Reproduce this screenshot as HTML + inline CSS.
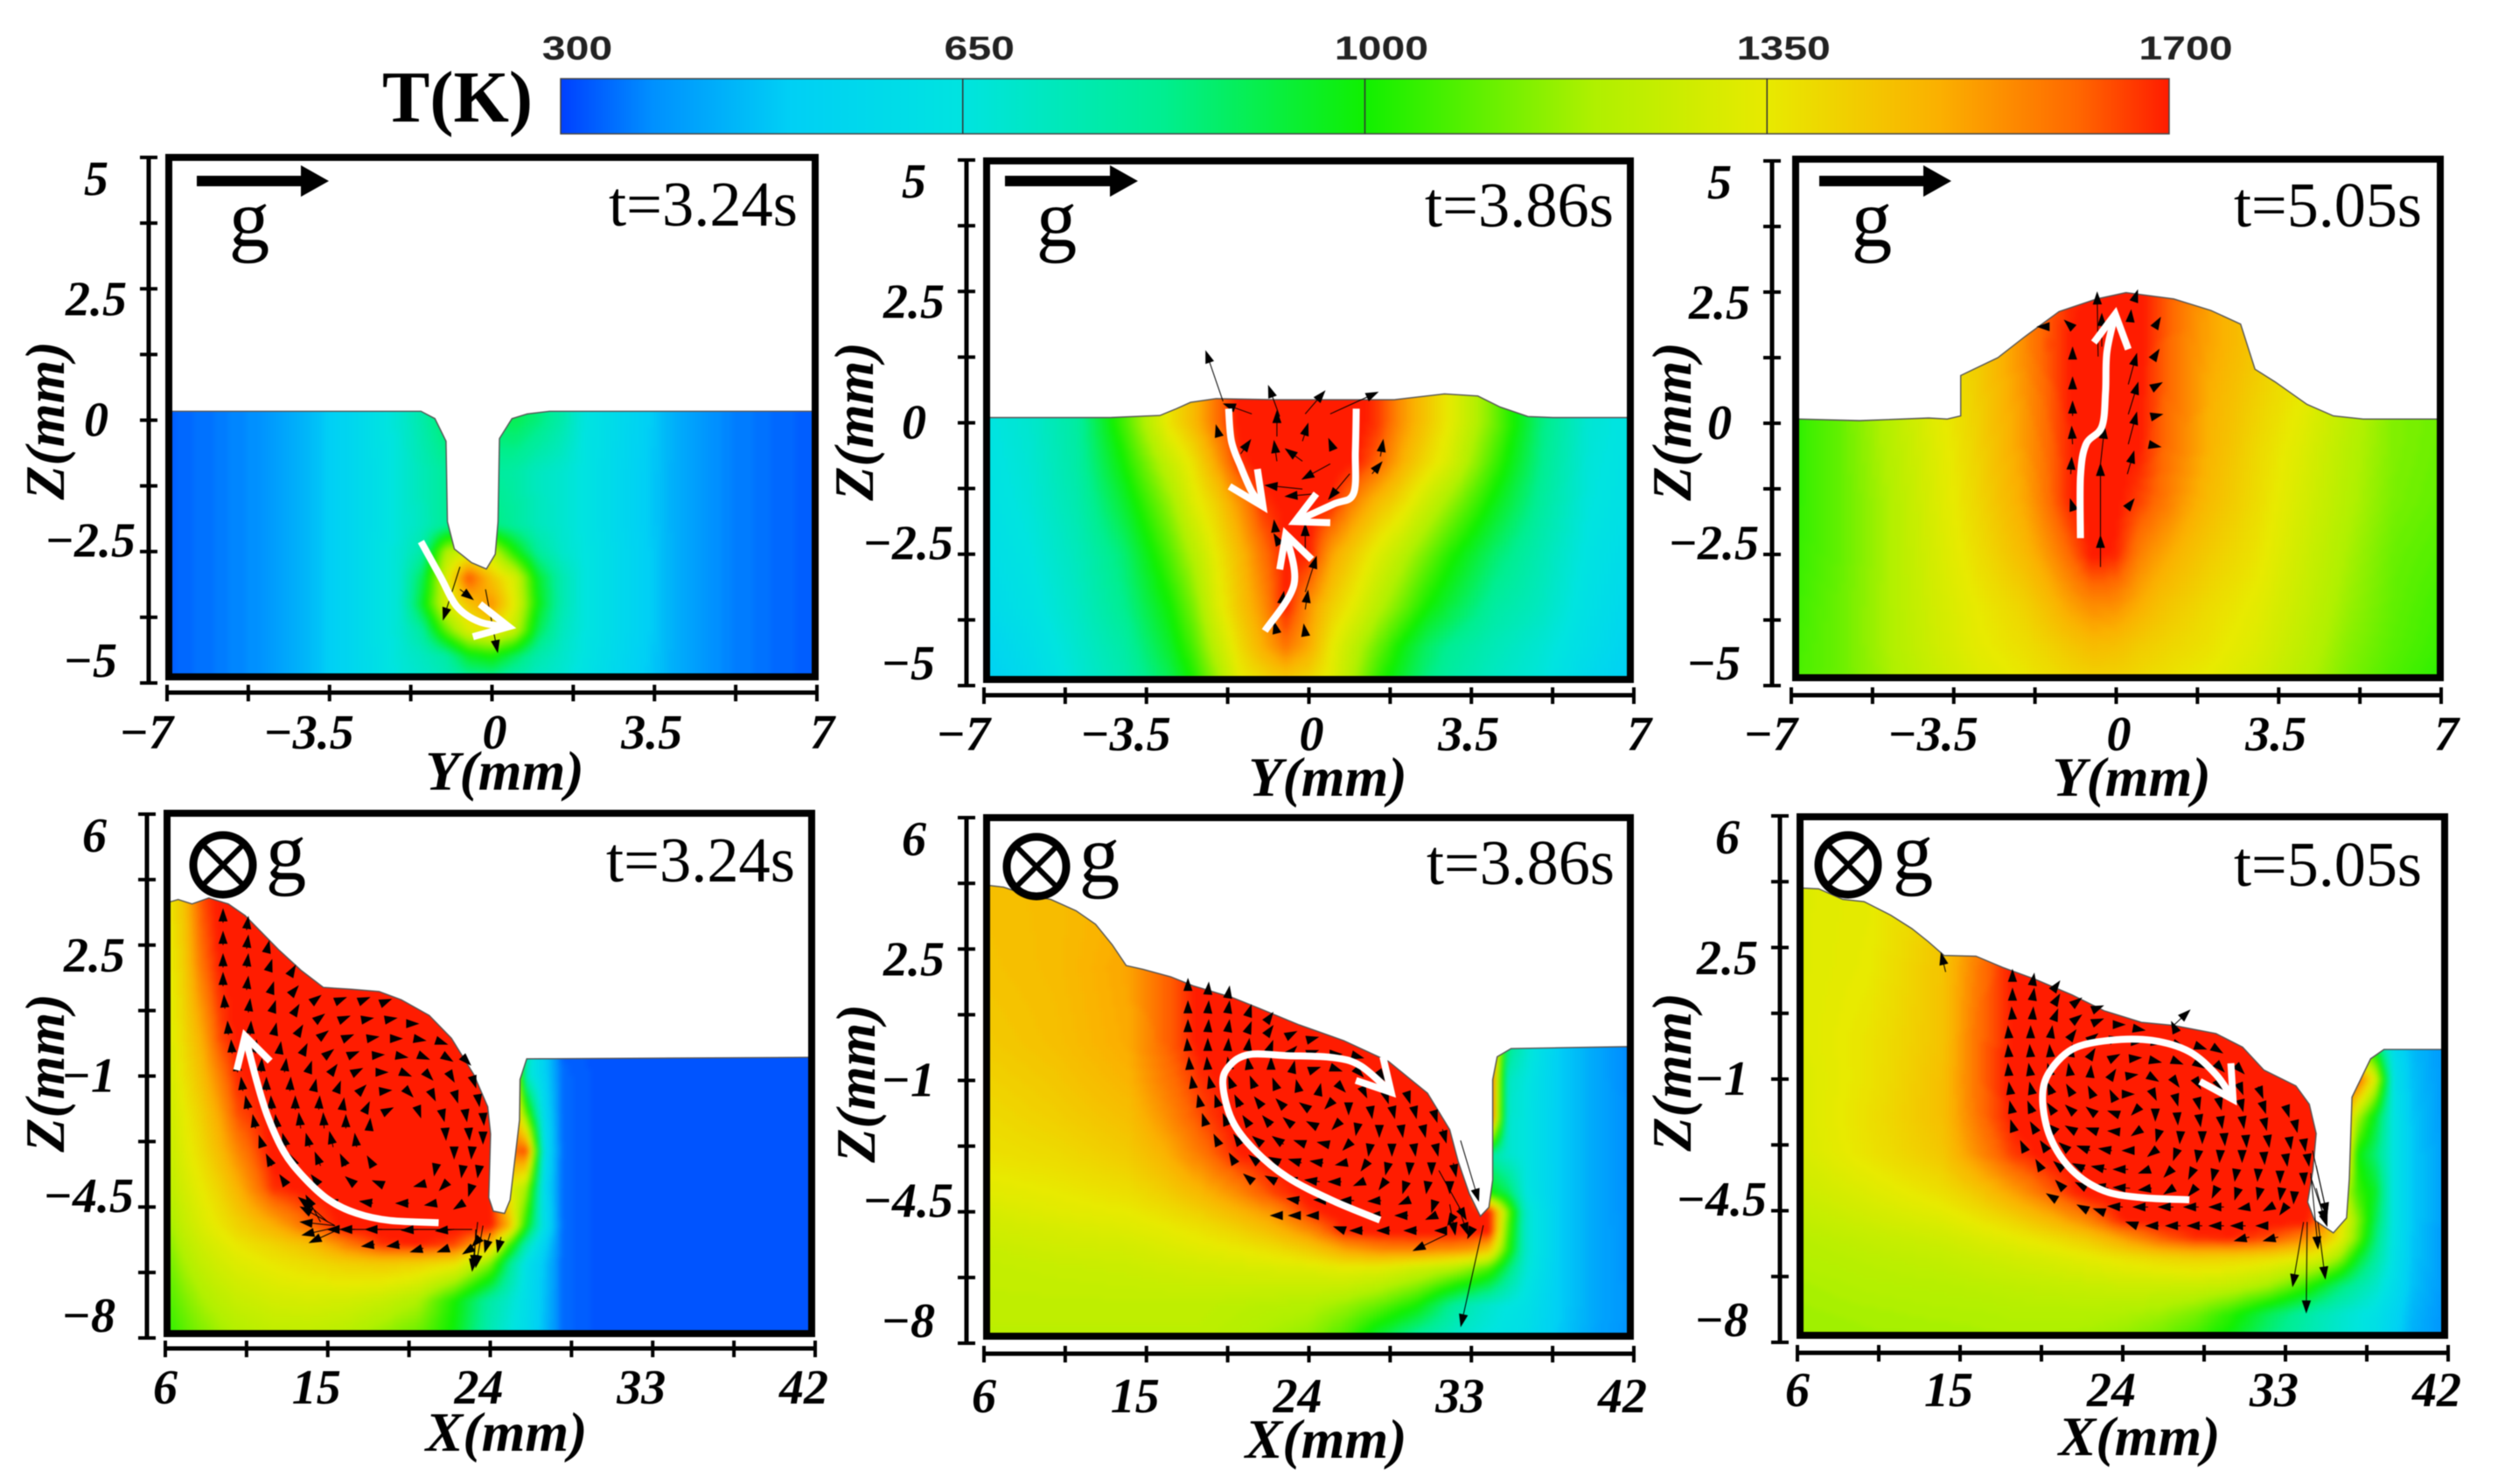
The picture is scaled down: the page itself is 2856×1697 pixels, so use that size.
<!DOCTYPE html>
<html lang="en">
<head>
<meta charset="utf-8">
<title>Melt pool temperature and flow fields</title>
<style>
html,body{margin:0;padding:0;background:#fff;width:2856px;height:1697px;overflow:hidden}
svg{display:block;filter:blur(0.5px)}
text{font-family:"Liberation Serif",serif;fill:#000}
.cb{font-family:"Liberation Sans",sans-serif;font-weight:700;font-size:38px;fill:#222}
.tk{font-weight:700;font-style:italic;font-size:56px}
.ttl{font-weight:700;font-style:italic;font-size:64px}
.tm{font-size:73px}
.gr{font-size:93px}
</style>
</head>
<body>
<svg id="chart" xmlns="http://www.w3.org/2000/svg" width="2856" height="1697" viewBox="0 0 2856 1697">
<defs id="defs">
<linearGradient id="cbGrad" x1="0" x2="1" y1="0" y2="0"></linearGradient>
<filter id="soft" x="-5%" y="-5%" width="110%" height="110%" color-interpolation-filters="sRGB"><feGaussianBlur stdDeviation="3"/></filter>
</defs>
<rect x="0" y="0" width="2856" height="1697" fill="#fff"/>
<text x="437" y="139" font-size="84" font-weight="700" textLength="172" lengthAdjust="spacingAndGlyphs">T(K)</text>
</svg>
<script>
// ---------- colour scale ----------
const cbTicks=[300,650,1000,1350,1700];
const cbStopTemps=[300,380,500,650,825,1000,1200,1350,1500,1620,1700];
const cbStopColors=['#0040ff','#0090ff','#00d0f5','#00e4e0','#00ee90','#10f000','#b0f000','#e8ea00','#fbb000','#ff6800','#ff1c00'];

// ---------- panel 1: Y section, t=3.24s ----------
const p1Cols=[-7,-6,-5,-4,-3,-2,-1.5,-1,-.5,0,.5,1,1.5,2,3,4,5,6,7];
const p1Rows=[.5,0,-1,-2,-2.5,-3,-3.5,-4,-4.5,-5];
const p1Temps=[
[330,355,385,450,550,680,770,880,900,880,900,850,770,650,540,430,370,345,325],
[330,355,385,450,550,680,770,880,900,880,900,850,770,650,540,430,370,345,325],
[330,355,385,450,550,670,740,800,800,800,780,720,690,640,530,430,370,345,325],
[330,355,385,450,550,670,730,810,850,850,800,730,690,640,530,430,370,345,325],
[330,355,385,450,550,680,780,1200,1300,1250,1000,800,700,650,540,430,370,345,325],
[330,355,385,450,550,680,900,1300,1650,1450,1300,950,760,650,540,430,370,345,325],
[330,355,385,450,550,680,950,1300,1450,1550,1330,980,760,650,540,430,370,345,325],
[330,355,385,450,550,680,800,1100,1320,1370,1250,900,730,650,540,430,370,345,325],
[330,355,385,450,550,670,720,780,950,1000,880,760,700,640,530,430,370,345,325],
[330,355,385,450,550,660,690,720,760,760,730,700,680,620,520,430,370,345,325]];
const p1Surface=[[-7,.17],[-1.53,.17],[-1.23,.03],[-.99,-.4],[-.96,-1.93],[-.81,-2.45],[-.44,-2.71],[-.12,-2.83],[.07,-2.55],[.13,-1.93],[.16,-.35],[.43,.03],[.76,.12],[1.24,.17],[7,.17]];
const p1Arrows=[[-.69,-2.79,-1.05,-3.79],[-.14,-3.22,.12,-4.41],[-.69,-3.22,-.41,-3.41]];
const p1Flow=[[-1.53,-2.31],[-1.11,-2.98],[-.75,-3.55],[-.26,-3.84],[.36,-3.93]];
const p1Head=[[-.26,-3.5],[.36,-3.93],[-.41,-4.12]];

// ---------- panel 2: Y section, t=3.86s ----------
const p2Cols=[-7,-6,-5,-4,-3,-2.5,-2,-1.5,-1,-.5,0,.5,1,1.5,2,2.5,3,4,5,6,7];
const p2Rows=[.6,0,-.75,-1.5,-2.5,-3.5,-4.25,-5];
const p2Temps=[
[640,690,790,1060,1370,1470,1600,1710,1720,1720,1720,1720,1720,1670,1550,1450,1350,1120,850,680,630],
[640,690,790,1060,1370,1470,1600,1710,1720,1720,1720,1720,1720,1670,1550,1450,1350,1120,850,680,630],
[630,680,780,1000,1260,1370,1520,1680,1720,1720,1720,1720,1700,1620,1500,1400,1310,1060,830,670,620],
[620,670,760,940,1170,1320,1420,1550,1680,1710,1710,1690,1570,1470,1390,1280,1180,980,800,660,610],
[600,650,730,860,1080,1210,1350,1470,1600,1700,1700,1520,1420,1320,1230,1130,1030,870,750,640,580],
[570,630,710,820,1000,1130,1310,1440,1550,1700,1550,1420,1330,1220,1120,1010,930,790,720,620,550],
[530,600,690,780,950,1070,1240,1390,1500,1600,1510,1350,1230,1110,990,890,820,740,680,600,520],
[500,570,670,750,890,1000,1150,1330,1380,1400,1380,1320,1180,1020,930,840,780,710,660,560,490]];
const p2Surface=[[-7,.1],[-4.29,.1],[-3.21,.14],[-2.85,.27],[-2.55,.39],[-2,.46],[-.69,.44],[1.84,.44],[2.92,.55],[3.64,.51],[4.12,.3],[4.72,.12],[5.26,.1],[7,.1]];
const p2Arrows=[[-1.85,.41,-2.22,1.36],[-.63,.12,-.87,.7],[-.08,.17,.34,.6],[.46,.17,1.48,.58],[-1.23,.17,-1.83,.36],[-.69,-.26,-.69,.22],[-.14,-.35,-.02,-.02],[-1.95,-.21,-2,-.05],[-1.47,-.59,-1.26,-.33],[-.69,-.73,-.75,-.35],[-.14,-.73,-.5,-.5],[.52,-.5,.43,-.31],[1.54,-.64,1.6,-.33],[1.36,-.97,1.57,-.75],[.46,-.78,-.14,-1.07],[.88,-.97,.43,-1.45],[-.14,-1.26,-.93,-1.19],[.16,-1.35,-.5,-1.4],[-.72,-2.07,-.75,-1.86],[-.63,-2.31,-.75,-2.12],[-.08,-2.4,-.08,-1.93],[-.08,-3.22,.16,-2.55],[-.59,-3.45,-.54,-3.22],[-.08,-3.55,-.02,-3.2],[-.69,-4,-.75,-3.79],[-.08,-4,-.11,-3.84]];
const p2Flows=[
[[-1.73,.27],[-1.67,-.35],[-1.47,-.83],[-1.23,-1.31],[-.99,-1.59]],
[[1.02,.27],[1,-.54],[.96,-1.35],[.52,-1.55],[-.3,-1.88]],
[[-.95,-3.96],[-.32,-3.07],[-.5,-2.12]]];
const p2Heads=[
[[-1.11,-.88],[-.99,-1.59],[-1.71,-1.21]],
[[.16,-1.35],[-.3,-1.88],[.46,-1.9]],
[[-.63,-2.79],[-.5,-2.12],[.06,-2.6]]];

// ---------- panel 3: Y section, t=5.05s ----------
const p3Cols=[-7,-6,-5,-4,-3,-2,-1.5,-1,-.5,0,.5,1,1.5,2,3,4,5,6,7];
const p3Rows=[2.5,1.5,.5,-.5,-1.5,-2.5,-3.5,-4.25,-5];
const p3Temps=[
[1050,1110,1220,1350,1420,1560,1620,1680,1710,1720,1710,1650,1590,1520,1440,1350,1240,1130,1100],
[1040,1100,1220,1350,1430,1560,1640,1700,1720,1720,1710,1640,1570,1520,1440,1350,1240,1130,1100],
[1030,1100,1210,1330,1420,1540,1620,1700,1720,1720,1710,1630,1570,1500,1420,1350,1240,1140,1120],
[1030,1100,1200,1310,1410,1530,1610,1690,1720,1720,1700,1620,1560,1490,1400,1320,1220,1140,1110],
[1030,1100,1190,1300,1400,1510,1600,1690,1720,1710,1660,1600,1530,1470,1390,1300,1210,1130,1100],
[1040,1100,1190,1290,1380,1470,1540,1620,1710,1690,1580,1520,1470,1430,1370,1280,1190,1110,1080],
[1050,1110,1190,1280,1350,1410,1460,1520,1560,1550,1500,1450,1420,1390,1340,1260,1170,1100,1060],
[1060,1110,1190,1270,1340,1380,1410,1440,1470,1460,1430,1410,1390,1370,1320,1240,1150,1090,1050],
[1070,1110,1180,1250,1310,1350,1370,1390,1400,1400,1390,1370,1350,1340,1290,1210,1130,1070,1030]];
const p3Surface=[[-7,.08],[-5.53,.05],[-4.04,.1],[-3.64,.08],[-3.35,.14],[-3.35,.91],[-3.07,1.03],[-2.55,1.25],[-1.97,1.65],[-1.23,2.13],[-.42,2.37],[.21,2.49],[1.24,2.37],[2.04,2.15],[2.68,1.89],[2.99,1.03],[3.42,.79],[4.11,.36],[4.68,.14],[5.32,.08],[7,.08]];
const p3Arrows=[[-.96,1.84,-1.11,1.96],[-.94,1.29,-.94,1.44],[-.94,.68,-.94,.87],[-.94,.14,-.94,.41],[-.94,-.4,-.96,-.07],[-.98,-.97,-.96,-.66],[-.92,-1.64,-.99,-1.45],[-.34,-2.74,-.34,-2.15],[-.34,-2.15,-.34,-.78],[-.34,-.78,-.25,-.07],[-.39,1.27,-.41,2.49],[-.31,1.46,-.31,2.08],[.26,.74,.44,1.32],[.26,.17,.47,.77],[.26,-.4,.44,.2],[.24,-.97,.38,-.54],[.24,-1.61,.38,-1.45],[.3,1.94,.32,2.15],[.38,2.32,.46,2.53],[.87,1.89,.95,2.01],[.84,1.29,.92,1.4],[.84,.7,.98,.77],[.84,.14,.99,.17],[.84,-.43,.95,-.45],[-1.61,1.84,-1.69,1.84]];
const p3Flow=[[-.77,-2.19],[-.77,-1.02],[-.65,-.4],[-.31,-.07],[-.23,.6],[-.2,1.36],[-.02,2.08]];
const p3Head=[[-.48,1.54],[-.02,2.08],[.26,1.41]];

// ---------- panel 4: X section, t=3.24s ----------
const p4Cols=[6,7,8,9,10,12,14,16,18,20,22,24,25,26,27,28,30,42];
const p4Rows=[4,2,0,-1,-2,-3,-4,-5,-5.5,-6,-7,-8];
const p4Temps=[
[1350,1450,1650,1720,1720,1720,1720,1720,1720,1720,1720,1720,1720,900,600,330,320,320],
[1320,1420,1600,1700,1720,1720,1720,1720,1720,1720,1720,1720,1720,900,600,330,320,320],
[1290,1390,1500,1650,1710,1720,1720,1720,1720,1720,1720,1720,1720,750,500,330,320,320],
[1270,1370,1460,1580,1690,1720,1720,1720,1720,1720,1720,1720,1720,720,520,340,320,320],
[1260,1340,1420,1520,1650,1720,1720,1720,1720,1720,1720,1720,1720,1100,560,340,320,320],
[1240,1320,1390,1470,1570,1720,1720,1720,1720,1720,1720,1720,1600,1650,600,340,320,320],
[1210,1290,1350,1410,1490,1680,1720,1720,1720,1720,1720,1720,1350,1200,560,340,320,320],
[1160,1250,1310,1360,1410,1500,1620,1720,1720,1720,1720,1720,1500,1000,600,340,320,320],
[1130,1220,1280,1320,1360,1410,1460,1580,1680,1700,1660,1450,1100,750,520,340,320,320],
[1100,1190,1250,1290,1320,1360,1390,1420,1440,1420,1380,1150,850,620,480,340,320,320],
[1060,1130,1190,1230,1260,1290,1300,1290,1260,1200,1010,780,700,600,470,340,320,320],
[1020,1080,1130,1170,1200,1230,1230,1210,1150,1100,980,740,660,580,460,340,320,320]];
const p4Surface=[[6,3.66],[6.71,3.72],[7.48,3.6],[8.41,3.76],[9.49,3.6],[10.42,3.29],[12.27,2.38],[13.51,1.83],[14.75,1.37],[16.29,1.32],[17.84,1.26],[19.07,1.04],[20.62,.62],[21.85,.01],[23.09,-.96],[23.86,-1.82],[24.02,-2.55],[23.92,-4.25],[24.17,-4.61],[24.79,-4.67],[25.1,-4.31],[25.62,-2.18],[25.65,-1.09],[26.02,-.54],[42,-.5]];
const p4Arrows=[
[9.2,3.1,0,.35],[10.5,2.9,.1,.35],
[9.2,2.5,0,.35],[10.5,2.4,.1,.35],[11.6,2.3,.15,.3],
[9.2,1.9,0,.35],[10.5,1.9,.1,.35],[11.7,1.8,.2,.3],[12.9,1.7,.3,.25],
[9.2,1.4,0,.35],[10.5,1.3,.1,.35],[11.8,1.2,.2,.3],[13,1.2,.35,.2],[14.2,1,.4,.15],[15.5,1,.5,.1],[16.8,1,.5,.1],[18,.95,.5,.1],
[9.3,.8,-.05,.35],[10.6,.7,.1,.35],[11.9,.7,.2,.3],[13.1,.65,.3,.25],[14.4,.5,.4,.15],[15.7,.5,.5,.1],[16.9,.5,.6,.05],[18.2,.5,.6,.05],[19.4,.4,.6,0],
[9.5,.1,-.05,.35],[10.7,.1,.05,.35],[12,.1,.15,.3],[13.3,.1,.3,.25],[14.6,.05,.4,.15],[15.9,0,.5,.1],[17.2,0,.6,.05],[18.5,0,.6,0],[19.8,0,.6,-.05],[21,-.05,.6,-.1],
[9.7,-.4,-.05,.35],[11,-.4,.05,.35],[12.3,-.4,.1,.3],[13.6,-.4,.25,.25],[14.9,-.45,.4,.15],[16.2,-.45,.5,.1],[17.5,-.45,.6,.02],[18.8,-.45,.6,-.05],[20.1,-.45,.5,-.1],[21.4,-.45,.5,-.15],[22.5,-.5,.4,-.2],
[10,-.9,-.05,.35],[11.3,-.9,.05,.35],[12.6,-.9,.1,.35],[13.9,-.9,.2,.28],[15.2,-.9,.3,.2],[16.5,-.9,.4,.1],[17.8,-.9,.5,0],[19.1,-.9,.5,-.1],[20.4,-.9,.4,-.2],[21.7,-.9,.3,-.25],[23,-1,.2,-.3],
[10.3,-1.4,-.1,.35],[11.6,-1.4,0,.35],[12.9,-1.4,.05,.35],[14.2,-1.4,.15,.3],[15.5,-1.4,.2,.25],[16.8,-1.4,.3,.15],[18.1,-1.4,.4,.02],[19.4,-1.4,.3,-.15],[20.7,-1.4,.25,-.25],[22,-1.4,.2,-.3],[23.3,-1.5,.1,-.3],
[10.6,-1.9,-.15,.35],[11.9,-1.9,-.05,.35],[13.2,-1.9,0,.35],[14.5,-1.9,.05,.35],[15.8,-1.9,.1,.3],[17.1,-1.9,.2,.2],[18.4,-1.9,.2,.05],[20,-1.9,.15,-.2],[21.3,-1.9,.15,-.3],[22.6,-1.9,.1,-.3],[23.6,-2,.05,-.3],
[11,-2.4,-.15,.35],[12.2,-2.4,-.1,.35],[13.5,-2.4,-.1,.4],[14.8,-2.4,-.05,.4],[16,-2.4,0,.35],[17.3,-2.4,.05,.25],[21.5,-2.4,.05,-.3],[22.8,-2.4,.05,-.3],[23.6,-2.5,0,-.3],
[11.4,-2.9,-.2,.3],[12.7,-2.9,-.2,.35],[14,-2.9,-.2,.35],[15.3,-2.9,-.2,.4],[16.6,-2.9,-.1,.35],[22,-2.9,0,-.3],[23,-2.9,-.05,-.3],
[11.9,-3.4,-.3,.3],[13.2,-3.4,-.3,.3],[14.6,-3.4,-.3,.35],[16,-3.4,-.3,.3],[17.5,-3.4,-.3,.25],[21,-3.4,-.1,-.25],[22.5,-3.4,-.1,-.3],[23.4,-3.4,-.1,-.3],
[12.7,-3.9,-.35,.25],[14.5,-3.9,-.4,.25],[16.5,-3.9,-.5,.2],[18,-3.9,-.5,.1],[20.2,-3.9,-.4,-.05],[21.5,-3.9,-.3,-.15],[23,-3.9,-.2,-.3],
[13.8,-4.4,-.4,.15],[15.5,-4.4,-.6,.1],[17.5,-4.4,-.7,.05],[19.5,-4.4,-.7,0],[21,-4.4,-.6,-.05],[22.5,-4.4,-.5,-.15],
[15.4,-5,-1.9,.5],[15.4,-5,-1.9,.1],[15.4,-5.05,-1.8,-.2],[15.6,-5.1,-1.6,-.35],[15,-4.9,-1.4,.6],[14.6,-4.9,-.8,.7],
[23,-5.1,-8,0],[22,-5.1,-1,-.04],[20,-5.1,-.9,-.02],[18,-5.1,-.9,0],[16.5,-5.1,-.8,0],
[23.5,-5.3,-.5,-.25],[24.6,-5.3,-.2,-.4],[23,-5.6,-.5,-.15],[21.7,-5.6,-.6,-.1],[20.3,-5.6,-.7,-.1],[19,-5.5,-.7,-.05],[17.6,-5.5,-.7,-.05],
[23.3,-4.9,-.3,-1.3],[23.6,-5,-.4,-1.1],[23.2,-5.1,-.1,-1],[24,-5.2,-.3,-.5]];
const p4Flow=[[21.14,-4.92],[18.45,-4.86],[16.6,-4.67],[15.05,-4.31],[13.66,-3.7],[12.58,-3.03],[11.66,-2.06],[11.04,-1.09],[10.42,.07]];
const p4Head=[[9.96,-.84],[10.42,.07],[11.81,-.6]];

// ---------- panel 5: X section, t=3.86s ----------
const p5Cols=[6,10,14,16,18,20,22,24,26,28,30,32,33,34,35,36,38,40,42];
const p5Rows=[4.5,2,0,-1,-2,-3,-4,-4.5,-5,-5.5,-6,-7,-8];
const p5Temps=[
[1460,1470,1490,1600,1700,1720,1720,1720,1720,1720,1720,1720,1720,1720,900,700,490,420,360],
[1450,1470,1520,1620,1710,1720,1720,1720,1720,1720,1720,1720,1720,1720,850,680,490,420,360],
[1430,1460,1510,1620,1710,1720,1720,1720,1720,1720,1720,1720,1720,1720,850,700,490,420,360],
[1410,1440,1490,1590,1680,1720,1720,1720,1720,1720,1720,1720,1720,1720,720,660,490,420,365],
[1390,1420,1460,1550,1650,1720,1720,1720,1720,1720,1720,1720,1720,1720,700,650,490,420,370],
[1370,1390,1430,1490,1590,1690,1720,1720,1720,1720,1720,1720,1700,800,700,650,490,420,370],
[1330,1350,1380,1420,1480,1560,1660,1720,1720,1720,1720,1720,1700,1000,900,660,490,420,375],
[1300,1330,1350,1380,1420,1480,1550,1680,1720,1720,1720,1720,1720,1720,1150,700,490,420,375],
[1280,1300,1320,1340,1370,1410,1470,1560,1700,1720,1720,1720,1720,1720,1100,700,490,420,380],
[1260,1280,1290,1310,1330,1350,1380,1430,1520,1570,1580,1560,1540,1450,1050,700,490,420,380],
[1250,1260,1270,1280,1290,1300,1310,1320,1340,1330,1280,1220,1160,1080,880,680,490,420,380],
[1240,1240,1240,1240,1240,1230,1220,1210,1170,1100,1000,800,740,690,650,620,490,420,385],
[1230,1230,1230,1230,1230,1210,1180,1150,1050,880,750,690,660,640,620,590,480,415,380]];
const p5Surface=[[6,4.19],[7.08,4.15],[8.32,3.95],[9.71,3.82],[11.1,3.52],[12.18,3.16],[13.11,2.61],[13.88,2.06],[14.81,1.96],[16.35,1.76],[17.59,1.52],[19.75,1.21],[21.3,.91],[23.46,.48],[25.93,.06],[28.4,-.49],[30.57,-1.34],[31.8,-2.31],[32.27,-3.16],[32.88,-4.01],[33.5,-4.62],[33.97,-4.38],[34.18,-3.65],[34.18,-.98],[34.43,-.37],[35.2,-.15],[42,-.1]];
const p5Arrows=[
[17.3,1.4,0,.3],[18.4,1.3,.05,.3],[19.5,1.2,.1,.3],
[17.3,.8,0,.3],[18.4,.8,.05,.3],[19.5,.8,.1,.3],[20.6,.7,.2,.3],[21.7,.6,.3,.2],
[17.3,.3,0,.3],[18.4,.3,.05,.3],[19.5,.3,.1,.3],[20.6,.3,.2,.25],[21.7,.25,.3,.2],[22.9,.2,.4,.1],[24.1,.1,.4,.05],
[17.3,-.2,-.05,.3],[18.4,-.2,0,.3],[19.5,-.2,.05,.3],[20.6,-.2,.1,.3],[21.8,-.2,.2,.25],[23,-.25,.3,.15],[24.2,-.25,.3,.05],[25.4,-.3,.4,0],[26.6,-.35,.4,-.05],
[17.4,-.7,-.05,.3],[18.4,-.7,-.05,.3],[19.6,-.7,-.1,.3],[20.7,-.7,-.1,.3],[21.9,-.7,0,.3],[23.1,-.7,.1,.2],[24.3,-.7,.3,.05],[25.5,-.7,.3,-.05],[26.7,-.75,.3,-.15],[27.9,-.8,.3,-.2],
[17.6,-1.2,-.1,.3],[18.6,-1.2,-.15,.3],[19.8,-1.2,-.25,.3],[21,-1.2,-.25,.3],[22.2,-1.2,-.2,.25],[23.4,-1.2,-.1,.2],[24.6,-1.2,.05,.1],[25.8,-1.2,.2,-.1],[27,-1.25,.2,-.2],[28.2,-1.3,.2,-.3],[29.4,-1.3,.2,-.3],
[18,-1.7,-.15,.3],[19,-1.7,-.2,.3],[20.2,-1.7,-.3,.3],[21.4,-1.7,-.4,.25],[22.6,-1.7,-.4,.2],[23.8,-1.7,-.3,.1],[25,-1.7,-.1,-.05],[26.2,-1.7,0,-.2],[27.4,-1.7,.1,-.3],[28.6,-1.7,.15,-.3],[29.8,-1.7,.15,-.3],[30.9,-1.8,.2,-.3],
[18.3,-2.2,-.2,.3],[19.5,-2.2,-.25,.3],[20.7,-2.2,-.35,.25],[21.9,-2.2,-.45,.25],[23.1,-2.2,-.5,.2],[24.3,-2.2,-.4,.1],[25.5,-2.2,-.2,-.1],[26.7,-2.2,-.1,-.25],[27.9,-2.2,0,-.3],[29.1,-2.2,.1,-.3],[30.3,-2.2,.15,-.3],[31.4,-2.3,.2,-.35],
[19,-2.7,-.25,.25],[20.2,-2.7,-.35,.25],[21.4,-2.7,-.5,.2],[22.6,-2.7,-.6,.2],[23.8,-2.7,-.6,.1],[25,-2.7,-.5,.05],[26.2,-2.7,-.3,-.15],[27.4,-2.7,-.1,-.3],[28.6,-2.7,0,-.3],[29.8,-2.7,.1,-.3],[31,-2.7,.15,-.3],
[19.9,-3.2,-.3,.25],[21.2,-3.2,-.5,.2],[22.4,-3.2,-.6,.15],[23.6,-3.2,-.7,.1],[24.8,-3.2,-.7,.05],[26,-3.2,-.5,-.05],[27.2,-3.2,-.3,-.2],[28.4,-3.2,-.15,-.3],[29.6,-3.2,-.05,-.3],[30.8,-3.2,0,-.3],[32,-3.2,.15,-.35],
[20.9,-3.7,-.5,.2],[22.2,-3.7,-.6,.15],[23.4,-3.7,-.7,.1],[24.6,-3.7,-.8,.05],[25.8,-3.7,-.7,0],[27,-3.7,-.5,-.1],[28.2,-3.7,-.3,-.2],[29.4,-3.7,-.2,-.3],[30.6,-3.7,-.1,-.3],[31.8,-3.7,0,-.3],
[23.5,-4.2,-.7,.05],[25,-4.2,-.7,.02],[26.5,-4.2,-.8,0],[28,-4.2,-.7,-.02],[29.5,-4.2,-.5,-.1],[31,-4.2,-.2,-.3],
[22.5,-4.6,-.6,0],[23.5,-4.6,-.6,0],[24.5,-4.6,-.6,0],[28,-4.6,-.7,0],[29.5,-4.6,-.7,0],[31,-4.6,-.5,-.1],[32,-4.6,-.3,-.25],
[26,-5,-.6,.1],[27,-5,-.7,0],[28.5,-5,-.7,0],[30,-5,-.7,0],[31.5,-5,-.5,0],[33,-5,-.2,-.2],
[33.66,-4.86,-1.24,-2.68],[31.65,-5.1,-1.85,-.43],[31.2,-3.4,1.5,-1.3],[32.4,-2.6,1,-1.6],[31.8,-4.3,.3,-.8],[32.3,-4.4,.5,-.7]];
const p5Flow=[[27.94,-4.72],[25.31,-4.2],[22.84,-3.59],[20.99,-2.86],[19.75,-2.07],[19.23,-1.1],[19.6,-.61],[20.68,-.31],[22.84,-.34],[25.31,-.39],[26.86,-.61],[28.56,-1.32]];
const p5Head=[[28.1,-.37],[28.56,-1.32],[26.6,-1]];

// ---------- panel 6: X section, t=5.05s ----------
const p6Cols=[6,10,14,16,18,20,22,24,26,28,30,32,34,35,36,37,38,39,40,42];
const p6Rows=[4.5,2,0,-1,-2,-3,-4,-4.75,-5.25,-5.75,-6.5,-7.25,-8];
const p6Temps=[
[1320,1340,1420,1540,1690,1720,1720,1720,1720,1720,1720,1720,1720,1720,1720,700,650,520,440,385],
[1320,1350,1450,1590,1710,1720,1720,1720,1720,1720,1720,1720,1720,1720,1720,1000,800,560,460,385],
[1320,1370,1450,1610,1710,1720,1720,1720,1720,1720,1720,1720,1720,1720,1720,1000,850,560,460,385],
[1310,1370,1460,1610,1720,1720,1720,1720,1720,1720,1720,1720,1720,1720,1720,1650,1300,620,470,385],
[1310,1380,1460,1600,1710,1720,1720,1720,1720,1720,1720,1720,1720,1720,1720,1200,950,640,480,390],
[1300,1370,1440,1560,1670,1720,1720,1720,1720,1720,1720,1720,1720,1720,1720,1000,860,640,490,390],
[1270,1320,1380,1440,1530,1630,1720,1720,1720,1720,1720,1720,1720,1720,1300,1060,950,640,490,390],
[1240,1280,1320,1360,1410,1480,1570,1700,1720,1720,1720,1720,1720,1600,1400,1150,900,640,490,390],
[1220,1250,1280,1310,1340,1380,1430,1520,1620,1680,1690,1650,1560,1480,1350,1120,850,630,480,385],
[1210,1230,1250,1270,1290,1310,1340,1370,1400,1420,1410,1390,1350,1300,1180,960,800,620,480,385],
[1190,1210,1220,1230,1240,1250,1260,1270,1270,1270,1250,1190,1060,960,860,780,700,590,470,385],
[1180,1190,1200,1200,1210,1210,1210,1200,1180,1130,1030,900,790,740,700,660,620,540,450,380],
[1170,1180,1180,1190,1190,1190,1180,1160,1110,1040,960,840,760,720,680,650,610,510,440,380]];
const p6Surface=[[6,4.08],[7.18,4.06],[8.51,3.78],[9.69,3.72],[11.16,3.36],[12.34,3],[13.23,2.66],[14.11,2.29],[15.88,2.27],[17.36,1.97],[19.13,1.66],[21.19,1.24],[22.96,.82],[25.03,.51],[26.8,.43],[29.16,.21],[30.63,-.15],[31.81,-.76],[33.58,-1.18],[34.32,-1.67],[34.7,-2.45],[34.52,-3.42],[34.23,-4.27],[34.61,-4.75],[35.65,-5.09],[36.38,-4.69],[36.53,-3.66],[36.68,-1.48],[37.71,-.46],[38.45,-.21],[42,-.21]];
const p6Arrows=[
[17.9,1.6,0,.3],[19,1.5,.1,.3],[20.2,1.4,.3,.2],
[17.9,1.1,0,.3],[19,1.1,.1,.3],[20.2,1,.3,.25],[21.3,1,.4,.15],[22.4,.85,.5,.1],
[17.9,.6,-.05,.3],[19,.6,.05,.3],[20.2,.6,.2,.25],[21.3,.55,.4,.15],[22.4,.5,.5,.1],[23.5,.45,.6,0],[24.6,.35,.6,-.05],
[17.7,.1,-.05,.3],[18.9,.1,0,.3],[20,.1,.1,.3],[21.1,.1,.3,.2],[22.2,.05,.4,.15],[23.4,.05,.5,.05],[24.5,0,.6,0],[25.6,0,.6,-.05],[26.8,-.05,.6,-.1],[28,-.1,.6,-.1],[29,-.15,.5,-.15],
[17.7,-.4,-.05,.3],[18.9,-.4,-.05,.3],[20,-.4,-.05,.3],[21.1,-.4,.1,.3],[22.2,-.4,.25,.2],[23.4,-.45,.4,.1],[24.5,-.45,.5,.02],[25.6,-.5,.5,-.05],[26.8,-.5,.5,-.1],[28,-.55,.5,-.15],[29.2,-.6,.4,-.2],[30.3,-.65,.4,-.2],
[17.7,-.9,-.05,.3],[18.9,-.9,-.1,.3],[20,-.9,-.15,.3],[21.1,-.9,-.1,.3],[22.2,-.9,.05,.25],[23.4,-.9,.2,.15],[24.5,-.9,.3,.02],[25.6,-.95,.35,-.1],[26.8,-1,.3,-.2],[28,-1,.3,-.25],[29.2,-1.05,.3,-.25],[30.4,-1.1,.25,-.3],[31.5,-1.2,.25,-.3],
[17.8,-1.4,-.1,.3],[19,-1.4,-.15,.3],[20.1,-1.4,-.25,.3],[21.2,-1.4,-.3,.25],[22.3,-1.4,-.2,.2],[23.4,-1.4,-.1,.1],[24.5,-1.4,.1,0],[25.7,-1.4,.15,-.15],[26.9,-1.45,.15,-.25],[28.1,-1.5,.15,-.3],[29.3,-1.5,.15,-.3],[30.5,-1.55,.15,-.3],[31.7,-1.6,.2,-.3],[33,-1.7,.2,-.3],
[17.9,-1.9,-.15,.3],[19,-1.9,-.25,.3],[20.2,-1.9,-.35,.25],[21.3,-1.9,-.45,.2],[22.4,-1.9,-.4,.15],[23.5,-1.9,-.3,.05],[24.6,-1.9,-.1,-.05],[25.8,-1.9,0,-.2],[27,-1.9,.05,-.3],[28.2,-1.95,.1,-.3],[29.4,-2,.1,-.3],[30.6,-2,.1,-.3],[31.8,-2.05,.15,-.3],[33.5,-2.1,.15,-.3],
[18,-2.4,-.2,.3],[19.2,-2.4,-.3,.25],[20.3,-2.4,-.45,.2],[21.4,-2.4,-.55,.15],[22.6,-2.4,-.6,.1],[23.7,-2.4,-.5,.02],[24.8,-2.4,-.3,-.1],[26,-2.4,-.15,-.25],[27.2,-2.4,-.05,-.3],[28.4,-2.4,0,-.3],[29.6,-2.45,.05,-.3],[30.8,-2.5,.05,-.3],[32,-2.5,.1,-.3],[33.2,-2.55,.1,-.3],[34,-2.6,.1,-.3],
[18.6,-2.9,-.25,.25],[19.8,-2.9,-.35,.25],[21,-2.9,-.5,.2],[22.2,-2.9,-.7,.12],[23.4,-2.9,-.7,.05],[24.6,-2.9,-.6,0],[25.8,-2.9,-.4,-.15],[27,-2.9,-.2,-.25],[28.2,-2.9,-.1,-.3],[29.4,-2.9,-.05,-.3],[30.6,-2.9,0,-.3],[31.8,-2.95,.05,-.3],[33,-3,.1,-.3],[34.2,-3,.1,-.3],
[19.5,-3.4,-.3,.25],[20.7,-3.4,-.5,.2],[21.9,-3.4,-.65,.15],[23.1,-3.4,-.8,.08],[24.3,-3.4,-.8,0],[25.5,-3.4,-.6,-.1],[26.7,-3.4,-.4,-.2],[27.9,-3.4,-.25,-.25],[29.1,-3.4,-.15,-.3],[30.3,-3.4,-.1,-.3],[31.5,-3.4,-.05,-.3],[32.7,-3.45,0,-.3],[34,-3.5,.05,-.3],
[20.7,-3.9,-.4,.2],[22,-3.9,-.6,.15],[23.2,-3.9,-.8,.08],[24.4,-3.9,-.9,.02],[25.6,-3.9,-.7,-.05],[26.8,-3.9,-.5,-.15],[28,-3.9,-.35,-.2],[29.2,-3.9,-.25,-.25],[30.4,-3.9,-.2,-.3],[31.6,-3.9,-.15,-.3],[32.8,-3.9,-.1,-.3],[33.5,-4,-.05,-.3],
[24,-4.4,-.8,.02],[25.4,-4.4,-.8,0],[26.8,-4.4,-.8,0],[28.2,-4.4,-.8,0],[29.6,-4.4,-.8,0],[31,-4.4,-.6,-.05],[32.2,-4.4,-.4,-.1],[33,-4.4,-.3,-.2],
[20.3,-4.2,-.5,.15],[22.1,-4.5,-.6,.15],[23,-4.55,-.6,.1],
[24.8,-4.9,-.6,.1],[26,-4.9,-.7,0],[27.2,-4.9,-.8,0],[28.4,-4.9,-.8,0],[29.6,-4.9,-.8,0],[30.8,-4.9,-.8,0],[32,-4.9,-.6,0],
[31,-5.2,-.8,-.1],[32.6,-5.2,-.8,-.1],
[34.5,-2.9,.8,-1.7],[34.7,-3.3,.6,-1.3],[34.4,-3.6,.9,-1.3],[34.4,-3.5,.4,-2],[34.7,-3.9,.5,-.9],
[34,-4.8,-.6,-1.7],[34.2,-4.8,-.05,-2.4],[34.8,-4.8,.4,-1.5],
[26.7,.38,1,.45],[26.8,.42,-.1,.1],[14.2,1.85,-.25,.5]];
const p6Flow=[[27.68,-4.21],[25.03,-4.15],[22.96,-3.97],[21.19,-3.42],[20.01,-2.57],[19.57,-1.61],[19.86,-.88],[21.19,-.21],[23.26,.03],[25.62,.03],[27.68,-.27],[29.16,-.88],[30.1,-1.54]];
const p6Head=[[29.98,-.58],[30.1,-1.54],[28.27,-1.06]];

// ---------- axis values ----------
const topXTicks=[-7,-5.25,-3.5,-1.75,0,1.75,3.5,5.25,7];
const topXLabels=[-7,-3.5,0,3.5,7];
const topZTicks=[5,3.75,2.5,1.25,0,-1.25,-2.5,-3.75,-5];
const topZLabels=[5,2.5,0,-2.5,-5];
const botXTicks=[6,10.5,15,19.5,24,28.5,33,37.5,42];
const botXLabels=[6,15,24,33,42];
const botZTicks=[6,4.25,2.5,.75,-1,-2.75,-4.5,-6.25,-8];
const botZLabels=[6,2.5,-1,-4.5,-8];

// ---------- layout (separate from data) ----------
const panels=[
{id:'y-section-3-24s',time:'t=3.24s',cols:p1Cols,rows:p1Rows,temps:p1Temps,surface:p1Surface,arrows:p1Arrows,arrowMode:'ends',flows:[p1Flow],heads:[p1Head],
 box:[189,176,936,778],xa:[191,934,792],ya:[170,180,781],dx:[-7,7],dz:[5,-5],xT:topXTicks,xL:topXLabels,zT:topZTicks,zL:topZLabels,
 xBase:856,tBase:258,tx:[696,912],ttl:'Y(mm)',ttlX:577,ttlY:903,zTtl:[73,481],g:'arrow',gx:[225,376,207],gLetter:[285,281]},
{id:'y-section-3-86s',time:'t=3.86s',cols:p2Cols,rows:p2Rows,temps:p2Temps,surface:p2Surface,arrows:p2Arrows,arrowMode:'ends',flows:p2Flows,heads:p2Heads,
 box:[1124,180,1868,781],xa:[1125,1868,795],ya:[1105,183,784],dx:[-7,7],dz:[5,-5],xT:topXTicks,xL:topXLabels,zT:topZTicks,zL:topZLabels,
 xBase:858,tBase:259,tx:[1629,1845],ttl:'Y(mm)',ttlX:1518,ttlY:910,zTtl:[998,482],g:'arrow',gx:[1149,1301,207],gLetter:[1208,281]},
{id:'y-section-5-05s',time:'t=5.05s',cols:p3Cols,rows:p3Rows,temps:p3Temps,surface:p3Surface,arrows:p3Arrows,arrowMode:'ends',flows:[p3Flow],heads:[p3Head],
 box:[2049,178,2794,779],xa:[2048,2791,795],ya:[2026,184,784],dx:[-7,7],dz:[5,-5],xT:topXTicks,xL:topXLabels,zT:topZTicks,zL:topZLabels,
 xBase:858,tBase:259,tx:[2554,2769],ttl:'Y(mm)',ttlX:2437,ttlY:910,zTtl:[1933,482],g:'arrow',gx:[2080,2231,207],gLetter:[2140,281]},
{id:'x-section-3-24s',time:'t=3.24s',cols:p4Cols,rows:p4Rows,temps:p4Temps,surface:p4Surface,arrows:p4Arrows,arrowMode:'delta',flows:[p4Flow],heads:[p4Head],
 box:[187,926,932,1529],xa:[189,932,1542],ya:[168,931,1530],dx:[6,42],dz:[6,-8],xT:botXTicks,xL:botXLabels,zT:botZTicks,zL:botZLabels,
 xBase:1605,tBase:1008,tx:[693,909],ttl:'X(mm)',ttlX:579,ttlY:1659,zTtl:[73,1227],g:'into',gx:[255,989],gLetter:[327,1005]},
{id:'x-section-3-86s',time:'t=3.86s',cols:p5Cols,rows:p5Rows,temps:p5Temps,surface:p5Surface,arrows:p5Arrows,arrowMode:'delta',flows:[p5Flow],heads:[p5Head],
 box:[1124,931,1868,1532],xa:[1125,1868,1548],ya:[1105,935,1536],dx:[6,42],dz:[6,-8],xT:botXTicks,xL:botXLabels,zT:botZTicks,zL:botZLabels,
 xBase:1615,tBase:1011,tx:[1631,1846],ttl:'X(mm)',ttlX:1516,ttlY:1667,zTtl:[1000,1239],g:'into',gx:[1185,991],gLetter:[1257,1008]},
{id:'x-section-5-05s',time:'t=5.05s',cols:p6Cols,rows:p6Rows,temps:p6Temps,surface:p6Surface,arrows:p6Arrows,arrowMode:'delta',flows:[p6Flow],heads:[p6Head],
 box:[2054,930,2799,1531],xa:[2055,2799,1547],ya:[2035,933,1535],dx:[6,42],dz:[6,-8],xT:botXTicks,xL:botXLabels,zT:botZTicks,zL:botZLabels,
 xBase:1608,tBase:1013,tx:[2554,2769],ttl:'X(mm)',ttlX:2446,ttlY:1664,zTtl:[1933,1226],g:'into',gx:[2113,989],gLetter:[2187,1005]}
];

const NS='http://www.w3.org/2000/svg';
const root=document.getElementById('chart');
const defs=document.getElementById('defs');
function mk(tag,attrs,parent){
  const e=document.createElementNS(NS,tag);
  for(const k in attrs){e.setAttribute(k,attrs[k]);}
  parent.appendChild(e);
  return e;
}
function hexRgb(h){return [parseInt(h.slice(1,3),16),parseInt(h.slice(3,5),16),parseInt(h.slice(5,7),16)];}
function tempColor(t){
  const T=cbStopTemps,C=cbStopColors;
  if(t<=T[0])return C[0];
  if(t>=T[T.length-1])return C[C.length-1];
  let i=0;
  while(t>T[i+1])i++;
  const f=(t-T[i])/(T[i+1]-T[i]),a=hexRgb(C[i]),b=hexRgb(C[i+1]);
  return 'rgb('+Math.round(a[0]+(b[0]-a[0])*f)+','+Math.round(a[1]+(b[1]-a[1])*f)+','+Math.round(a[2]+(b[2]-a[2])*f)+')';
}
function fmt(v){return String(v).replace('-','\u2212');}

// ---------- colour bar ----------
const cbX=v=>641+(v-cbTicks[0])/(cbTicks[cbTicks.length-1]-cbTicks[0])*(2480-641);
const cbGrad=document.getElementById('cbGrad');
cbStopTemps.forEach((t,i)=>{
  mk('stop',{offset:(t-300)/1400,'stop-color':cbStopColors[i]},cbGrad);
});
const cbRect=mk('rect',{x:641,y:90,width:1839,height:63,fill:'url(#cbGrad)',stroke:'#444','stroke-width':1.5},root);


cbTicks.forEach(v=>{
  if(v>cbTicks[0]&&v<cbTicks[cbTicks.length-1]){
    const tick=mk('line',{x1:cbX(v),x2:cbX(v),y1:90,y2:153,stroke:'#333','stroke-width':1.5},root);
    
    
  }
  const lab=mk('text',{x:cbX(v)+19,y:68,'text-anchor':'middle',class:'cb',textLength:String(v).length*26.8,lengthAdjust:'spacingAndGlyphs'},root);
  lab.textContent=String(v);
  
  
});

// ---------- panels ----------
panels.forEach((p,pi)=>{
  const g=mk('g',{},root);
  
  
  const sx=v=>p.xa[0]+(v-p.dx[0])/(p.dx[1]-p.dx[0])*(p.xa[1]-p.xa[0]);
  const sy=v=>p.ya[1]+(v-p.dz[0])/(p.dz[1]-p.dz[0])*(p.ya[2]-p.ya[1]);
  const ix=px=>p.dx[0]+(px-p.xa[0])/(p.xa[1]-p.xa[0])*(p.dx[1]-p.dx[0]);
  const iy=py=>p.dz[0]+(py-p.ya[1])/(p.ya[2]-p.ya[1])*(p.dz[1]-p.dz[0]);
  const inL=p.box[0]+8,inT=p.box[1]+8,inR=p.box[2]-8,inB=p.box[3]-8;
  const clampX=x=>Math.max(inL,Math.min(inR,x));

  // surface clip
  const pts=p.surface.map(s=>[clampX(sx(s[0])),sy(s[1])]);
  const cp=mk('clipPath',{id:'clip'+pi},defs);
  mk('polygon',{points:pts.map(q=>q.join(',')).join(' ')+' '+inR+','+inB+' '+inL+','+inB},cp);

  // temperature field, sampled from the grid via the axis functions
  const clipG=mk('g',{'clip-path':'url(#clip'+pi+')'},g);
  
  
  const heat=mk('g',{filter:'url(#soft)'},clipG);
  const buckets={};
  const step=4,C=p.cols,R=p.rows,Tm=p.temps;
  for(let py=inT-8;py<inB+8;py+=step){
    const z=Math.max(R[R.length-1],Math.min(R[0],iy(py+step/2)));
    let r=0;while(r<R.length-2&&z<R[r+1])r++;
    const fz=(R[r]-z)/(R[r]-R[r+1]);
    for(let px=inL-8;px<inR+8;px+=step){
      const x=Math.max(C[0],Math.min(C[C.length-1],ix(px+step/2)));
      let c=0;while(c<C.length-2&&x>C[c+1])c++;
      const fx=(x-C[c])/(C[c+1]-C[c]);
      const t=(Tm[r][c]*(1-fx)+Tm[r][c+1]*fx)*(1-fz)+(Tm[r+1][c]*(1-fx)+Tm[r+1][c+1]*fx)*fz;
      const lv=Math.round(t/10)*10;
      (buckets[lv]=buckets[lv]||[]).push('M'+px+' '+py+'h'+step+'v'+step+'h-'+step+'z');
    }
  }
  Object.keys(buckets).forEach(lv=>{
    const cell=mk('path',{d:buckets[lv].join(''),fill:tempColor(+lv),'shape-rendering':'crispEdges'},heat);
    
    
  });

  // surface outline
  const outline=mk('polyline',{points:pts.map(q=>q.join(',')).join(' '),fill:'none',stroke:'#555','stroke-width':1.4},g);
  
  

  // velocity arrows
  p.arrows.forEach(a=>{
    const x0=sx(a[0]),y0=sy(a[1]);
    const x1=p.arrowMode==='ends'?sx(a[2]):sx(a[0]+a[2]);
    const y1=p.arrowMode==='ends'?sy(a[3]):sy(a[1]+a[3]);
    const L=Math.hypot(x1-x0,y1-y0)||1,ux=(x1-x0)/L,uy=(y1-y0)/L;
    const hl=13,hw=4.5;
    const bx=x1-ux*hl,by=y1-uy*hl;
    let d='M'+bx.toFixed(1)+' '+by.toFixed(1)+'L'+x1.toFixed(1)+' '+y1.toFixed(1);
    if(L>hl){d='M'+x0.toFixed(1)+' '+y0.toFixed(1)+'L'+bx.toFixed(1)+' '+by.toFixed(1);}
    d+='M'+x1.toFixed(1)+' '+y1.toFixed(1)+'L'+(bx-uy*hw).toFixed(1)+' '+(by+ux*hw).toFixed(1)+'L'+(bx+uy*hw).toFixed(1)+' '+(by-ux*hw).toFixed(1)+'Z';
    const ar=mk('path',{d:d,fill:'#000',stroke:'#000','stroke-width':1},g);
    
    
  });

  // white flow paths
  p.flows.forEach((fl,i)=>{
    const q=fl.map(s=>[sx(s[0]),sy(s[1])]);
    let d='M'+q[0][0].toFixed(1)+' '+q[0][1].toFixed(1);
    for(let k=0;k<q.length-1;k++){
      const a=q[Math.max(0,k-1)],b=q[k],c=q[k+1],e=q[Math.min(q.length-1,k+2)];
      d+='C'+(b[0]+(c[0]-a[0])/6).toFixed(1)+' '+(b[1]+(c[1]-a[1])/6).toFixed(1)+' '+(c[0]-(e[0]-b[0])/6).toFixed(1)+' '+(c[1]-(e[1]-b[1])/6).toFixed(1)+' '+c[0].toFixed(1)+' '+c[1].toFixed(1);
    }
    const fp=mk('path',{d:d,fill:'none',stroke:'#fff','stroke-width':8},g);
    
    
    const hd=mk('polyline',{points:p.heads[i].map(s=>sx(s[0]).toFixed(1)+','+sy(s[1]).toFixed(1)).join(' '),fill:'none',stroke:'#fff','stroke-width':8,'stroke-linejoin':'miter'},g);
    
    
  });

  // frame
  const fr=mk('rect',{x:p.box[0]+4,y:p.box[1]+4,width:p.box[2]-p.box[0]-8,height:p.box[3]-p.box[1]-8,fill:'none',stroke:'#000','stroke-width':8},g);
  
  

  // y axis
  const yL=mk('line',{x1:p.ya[0],x2:p.ya[0],y1:p.ya[1],y2:p.ya[2],stroke:'#000','stroke-width':5},g);
  
  
  p.zT.forEach(v=>{
    const t=mk('line',{x1:p.ya[0]-10,x2:p.ya[0]+10,y1:sy(v),y2:sy(v),stroke:'#000','stroke-width':4},g);
    
    
  });
  const zMid=sy((p.dz[0]+p.dz[1])/2);
  p.zL.forEach(v=>{
    const ly=zMid+(sy(v)-zMid)*0.917+18;
    const t=mk('text',{x:p.ya[0]+(v<0?-67:-60),y:ly,'text-anchor':'middle',class:'tk'},g);
    t.textContent=fmt(v);
    
    
  });
  const zt=mk('text',{x:p.zTtl[0],y:p.zTtl[1],'text-anchor':'middle',class:'ttl',transform:'rotate(-90 '+p.zTtl[0]+' '+p.zTtl[1]+')'},g);
  zt.textContent='Z(mm)';
  
  

  // x axis
  const xL=mk('line',{x1:p.xa[0],x2:p.xa[1],y1:p.xa[2],y2:p.xa[2],stroke:'#000','stroke-width':5},g);
  
  
  p.xT.forEach(v=>{
    const t=mk('line',{x1:sx(v),x2:sx(v),y1:p.xa[2]-9,y2:p.xa[2]+10,stroke:'#000','stroke-width':4},g);
    
    
  });
  p.xL.forEach(v=>{
    let dx;
    if(p.dx[0]<0){dx=v<0?-24:(v===0?3:(v===7?6:-3));}
    else{dx=v===6?0:-13;}
    const t=mk('text',{x:sx(v)+dx,y:p.xBase,'text-anchor':'middle',class:'tk'},g);
    t.textContent=fmt(v);
    
    
  });
  const xt=mk('text',{x:p.ttlX,y:p.ttlY,'text-anchor':'middle',class:'ttl'},g);
  xt.textContent=p.ttl;
  
  

  // time label
  const tl=mk('text',{x:p.tx[0],y:p.tBase,class:'tm',textLength:p.tx[1]-p.tx[0],lengthAdjust:'spacingAndGlyphs'},g);
  tl.textContent=p.time;
  
  

  // gravity indicator
  if(p.g==='arrow'){
    const x0=p.gx[0],x1=p.gx[1],y=p.gx[2];
    const ga=mk('path',{d:'M'+x0+' '+(y-6)+'L'+(x1-32)+' '+(y-6)+'L'+(x1-32)+' '+(y-18)+'L'+x1+' '+y+'L'+(x1-32)+' '+(y+18)+'L'+(x1-32)+' '+(y+6)+'L'+x0+' '+(y+6)+'Z',fill:'#000'},g);
    
    
  }else{
    const cx=p.gx[0],cy=p.gx[1],r=34,k=24;
    const gi=mk('g',{},g);
    
    
    mk('circle',{cx:cx,cy:cy,r:r,fill:'none',stroke:'#000','stroke-width':9},gi);
    mk('path',{d:'M'+(cx-k)+' '+(cy-k)+'L'+(cx+k)+' '+(cy+k)+'M'+(cx+k)+' '+(cy-k)+'L'+(cx-k)+' '+(cy+k),stroke:'#000','stroke-width':6,fill:'none'},gi);
  }
  const gl=mk('text',{x:p.gLetter[0],y:p.gLetter[1],'text-anchor':'middle',class:'gr'},g);
  gl.textContent='g';
  
  
});
</script>
</body>
</html>
